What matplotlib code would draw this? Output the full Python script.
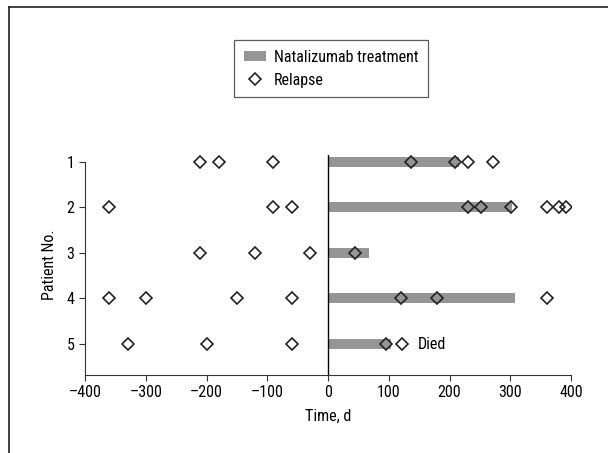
import matplotlib
matplotlib.use("Agg")
import matplotlib.pyplot as plt
from matplotlib.patches import Patch
from matplotlib.lines import Line2D

plt.rcParams['font.family'] = ['Roboto Condensed', 'DejaVu Sans']

# patient rows and treatment duration (days from natalizumab start)
patients = [1, 2, 3, 4, 5]
treat_end = [216, 303, 67, 307, 104]

# relapse days for each patient
relapses = {
    1: [-210, -180, -90, 137, 209, 230, 271],
    2: [-360, -90, -59, 230, 252, 301, 360, 380, 392],
    3: [-210, -120, -30, 45],
    4: [-360, -300, -150, -59, 120, 180, 360],
    5: [-329, -199, -60, 95, 121],
}
died_day = 148

bar_color = "#959595"
fs = 11.5

fig = plt.figure(figsize=(6.08, 4.53), dpi=100)
ax = fig.add_axes([85/608, 1-375/453, 486/608, 220/453])

ax.barh(patients, treat_end, left=0, height=0.22, color=bar_color, zorder=1)
for p in patients:
    xs = relapses[p]
    ax.plot(xs, [p]*len(xs), ls="none", marker="D", ms=6.2, mfc="none",
            mec="#222222", mew=1.2, zorder=3)
ax.text(died_day, 5, "Died", va="center", ha="left", fontsize=fs)

ax.axvline(0, color="black", lw=1.0, zorder=2)

ax.set_xlim(-400, 400)
ax.set_ylim(5.68, 0.85)
ax.set_xticks([-400, -300, -200, -100, 0, 100, 200, 300, 400])
ax.set_xticklabels(["\u2013400", "\u2013300", "\u2013200", "\u2013100", "0", "100", "200", "300", "400"])
ax.set_yticks(patients)
ax.tick_params(labelsize=fs, length=4, width=0.8, color="#333333")
ax.spines['top'].set_visible(False)
ax.spines['right'].set_visible(False)
ax.spines['left'].set_bounds(5.68, 1)
for s in ('left', 'bottom'):
    ax.spines[s].set_color("#333333")
    ax.spines[s].set_linewidth(0.8)
ax.set_xlabel("Time, d", fontsize=fs, labelpad=6)
ax.set_ylabel("Patient No.", fontsize=fs, labelpad=7)

handles = [
    Patch(facecolor=bar_color, edgecolor="none", label="Natalizumab treatment"),
    Line2D([], [], ls="none", marker="D", ms=6.2, mfc="white", mec="#222222",
           mew=1.2, label="Relapse"),
]
leg = fig.legend(handles=handles, loc="upper left",
                 bbox_to_anchor=(234/608, 1-40/453), fontsize=fs,
                 frameon=True, fancybox=False, borderpad=0.6,
                 handlelength=1.4, handleheight=0.6, handletextpad=0.5,
                 labelspacing=0.5, borderaxespad=0)
leg.get_frame().set_edgecolor("#333333")
leg.get_frame().set_linewidth(0.9)

# figure frame (top and left edges)
fig.add_artist(Line2D([8.5/608, 8.5/608], [0, 1-7/453], transform=fig.transFigure,
                      color="#222222", lw=1.2))
fig.add_artist(Line2D([8.5/608, 1], [1-7/453, 1-7/453], transform=fig.transFigure,
                      color="#222222", lw=1.2))

fig.savefig("out.png", dpi=100)
